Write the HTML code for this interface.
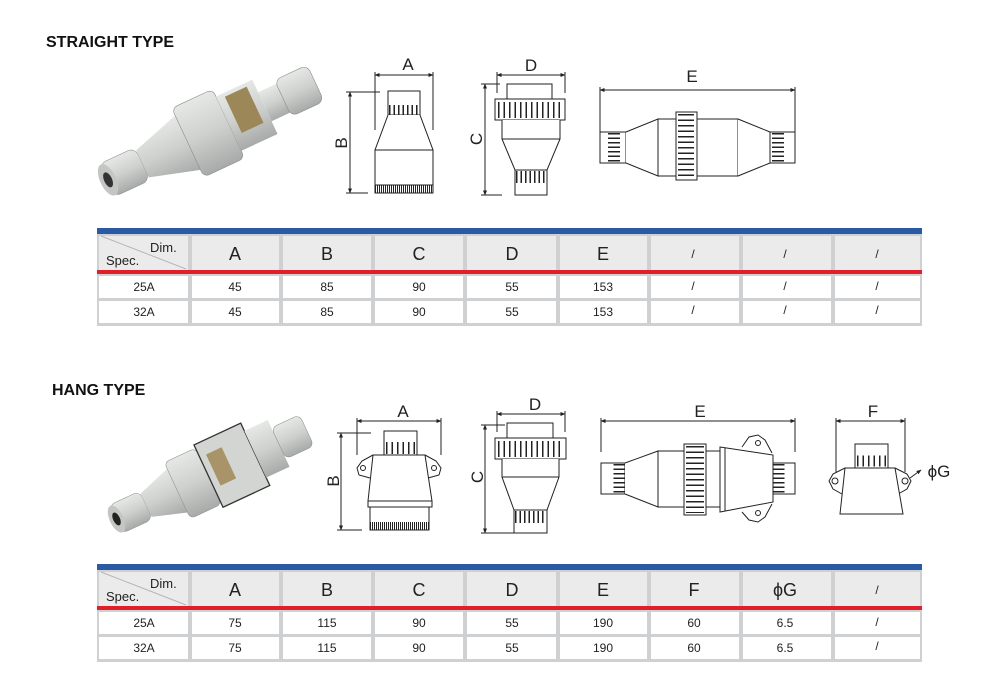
<!DOCTYPE html>
<html><head><meta charset="utf-8"><style>
html,body{margin:0;padding:0;background:#fff}
svg{display:block}
text{font-family:"Liberation Sans",Arial,sans-serif}
</style></head><body>
<svg width="1000" height="684" viewBox="0 0 1000 684" xmlns="http://www.w3.org/2000/svg">
<defs>
<marker id="ar" viewBox="0 0 10 10" refX="9" refY="5" markerWidth="5" markerHeight="5" orient="auto-start-reverse"><path d="M0,1 L10,5 L0,9z" fill="#222"/></marker>
<linearGradient id="gp" x1="0" y1="0" x2="0" y2="1"><stop offset="0" stop-color="#e6e8e6"/><stop offset=".5" stop-color="#ced0ce"/><stop offset="1" stop-color="#a7aaa8"/></linearGradient>
</defs>

<text x="46" y="47" font-size="16" font-weight="bold" fill="#111">STRAIGHT TYPE</text>
<text x="52" y="395" font-size="16" font-weight="bold" fill="#111">HANG TYPE</text>

<!-- photo 1 -->
<g transform="rotate(-25 215 130)">
<rect x="95" y="112" width="40" height="36" rx="8" fill="url(#gp)" stroke="#8a8d8b" stroke-width=".6"/>
<ellipse cx="97" cy="130" rx="8" ry="17" fill="#c4c6c4"/><ellipse cx="97" cy="130" rx="4" ry="8" fill="#333"/>
<path d="M135,115 L185,100 L185,160 L135,145z" fill="url(#gp)"/>
<rect x="185" y="92" width="45" height="76" rx="6" fill="url(#gp)" stroke="#8a8d8b" stroke-width=".6"/>
<rect x="230" y="100" width="40" height="60" fill="url(#gp)"/>
<rect x="238" y="104" width="24" height="40" fill="#9c8758"/>
<rect x="270" y="114" width="20" height="32" fill="url(#gp)"/>
<rect x="290" y="110" width="36" height="40" rx="7" fill="url(#gp)" stroke="#8a8d8b" stroke-width=".6"/>
</g>
<!-- photo 2 -->
<g transform="translate(205 478) scale(0.86) translate(-215 -478)">
<g transform="rotate(-25 210 480)">
<rect x="100" y="462" width="40" height="36" rx="8" fill="url(#gp)" stroke="#8a8d8b" stroke-width=".6"/>
<ellipse cx="102" cy="480" rx="8" ry="17" fill="#c4c6c4"/><ellipse cx="102" cy="480" rx="4" ry="8" fill="#222"/>
<path d="M140,465 L180,452 L180,508 L140,495z" fill="url(#gp)"/>
<rect x="180" y="444" width="40" height="72" rx="6" fill="url(#gp)" stroke="#8a8d8b" stroke-width=".6"/>
<rect x="220" y="440" width="60" height="80" fill="#d3d5d3" stroke="#333" stroke-width="1.5"/>
<rect x="228" y="456" width="20" height="40" fill="#a89468"/>
<rect x="280" y="450" width="30" height="60" fill="url(#gp)"/>
<rect x="310" y="460" width="36" height="40" rx="7" fill="url(#gp)" stroke="#8a8d8b" stroke-width=".6"/>
</g>
</g>

<g fill="none" stroke="#222" stroke-width="1">
<!-- ===== straight A/B ===== -->
<line x1="375" y1="75" x2="433" y2="75" marker-start="url(#ar)" marker-end="url(#ar)"/>
<line x1="375" y1="72" x2="375" y2="130"/><line x1="433" y1="72" x2="433" y2="130"/>
<line x1="350" y1="92" x2="350" y2="193" marker-start="url(#ar)" marker-end="url(#ar)"/>
<line x1="346" y1="92" x2="380" y2="92"/><line x1="346" y1="193" x2="368" y2="193"/>
<rect x="388" y="91" width="32" height="24" fill="#fff"/>
<line x1="389" y1="110" x2="420" y2="110" stroke-width="10" stroke-dasharray="1.5 3"/>
<path d="M388,115 L375,150 L375,185 L433,185 L433,150 L420,115" fill="#fff"/>
<line x1="375" y1="150" x2="433" y2="150"/>
<rect x="375" y="185" width="58" height="8" fill="#fff"/>
<line x1="375" y1="189" x2="433" y2="189" stroke-width="7" stroke-dasharray="1 1"/>
<!-- C/D -->
<line x1="497" y1="75" x2="565" y2="75" marker-start="url(#ar)" marker-end="url(#ar)"/>
<line x1="497" y1="72" x2="497" y2="93"/><line x1="565" y1="72" x2="565" y2="93"/>
<line x1="485" y1="84" x2="485" y2="195" marker-start="url(#ar)" marker-end="url(#ar)"/>
<line x1="481" y1="84" x2="500" y2="84"/><line x1="481" y1="195" x2="502" y2="195"/>
<rect x="507" y="84" width="45" height="15" fill="#fff"/>
<rect x="495" y="99" width="70" height="21" fill="#fff"/>
<line x1="498" y1="110" x2="563" y2="110" stroke-width="16" stroke-dasharray="1.5 4"/>
<path d="M502,120 L502,139 L515,170 L547,170 L560,139 L560,120" fill="#fff"/>
<line x1="502" y1="139" x2="560" y2="139"/>
<rect x="515" y="170" width="32" height="25" fill="#fff"/>
<line x1="516" y1="177" x2="547" y2="177" stroke-width="12" stroke-dasharray="1.5 3"/>
<!-- E -->
<line x1="600" y1="90" x2="795" y2="90" marker-start="url(#ar)" marker-end="url(#ar)"/>
<line x1="600" y1="87" x2="600" y2="140"/><line x1="795" y1="87" x2="795" y2="160"/>
<rect x="600" y="132" width="26" height="31" fill="#fff"/>
<line x1="614" y1="133" x2="614" y2="162" stroke-width="12" stroke-dasharray="1.5 3"/>
<path d="M626,132 L658,119 L658,176 L626,163" fill="#fff"/>
<rect x="658" y="119" width="80" height="57" fill="#fff"/>
<path d="M738,119 L770,132 L770,163 L738,176" fill="#fff"/>
<rect x="676" y="112" width="21" height="68" fill="#fff"/>
<line x1="686" y1="114" x2="686" y2="178" stroke-width="16" stroke-dasharray="1.5 4"/>
<rect x="770" y="132" width="25" height="31" fill="#fff"/>
<line x1="778" y1="133" x2="778" y2="162" stroke-width="12" stroke-dasharray="1.5 3"/>

<!-- ===== hang A/B ===== -->
<line x1="357" y1="421" x2="441" y2="421" marker-start="url(#ar)" marker-end="url(#ar)"/>
<line x1="357" y1="418" x2="357" y2="455"/><line x1="441" y1="418" x2="441" y2="455"/>
<line x1="341" y1="433" x2="341" y2="530" marker-start="url(#ar)" marker-end="url(#ar)"/>
<line x1="337" y1="433" x2="371" y2="433"/><line x1="337" y1="530" x2="362" y2="530"/>
<rect x="384" y="431" width="33" height="24" fill="#fff"/>
<line x1="386" y1="448" x2="417" y2="448" stroke-width="12" stroke-dasharray="1.5 4"/>
<path d="M373,455 L362,461 L357,468 L359,475 L370,478" fill="#fff"/>
<path d="M425,455 L436,461 L441,468 L439,475 L428,478" fill="#fff"/>
<circle cx="363" cy="468" r="2.5"/><circle cx="434" cy="468" r="2.5"/>
<path d="M373,455 L425,455 L432,501 L368,501z" fill="#fff"/>
<rect x="368" y="501" width="64" height="6" fill="#fff"/>
<rect x="370" y="507" width="59" height="23" fill="#fff"/>
<line x1="370" y1="526" x2="429" y2="526" stroke-width="8" stroke-dasharray="1 1"/>
<!-- hang C/D -->
<line x1="497" y1="414" x2="565" y2="414" marker-start="url(#ar)" marker-end="url(#ar)"/>
<line x1="497" y1="411" x2="497" y2="432"/><line x1="565" y1="411" x2="565" y2="432"/>
<line x1="485" y1="425" x2="485" y2="533" marker-start="url(#ar)" marker-end="url(#ar)"/>
<line x1="481" y1="425" x2="505" y2="425"/><line x1="481" y1="533" x2="514" y2="533"/>
<rect x="507" y="423" width="46" height="15" fill="#fff"/>
<rect x="495" y="438" width="71" height="21" fill="#fff"/>
<line x1="498" y1="449" x2="564" y2="449" stroke-width="16" stroke-dasharray="1.5 4"/>
<path d="M502,459 L502,477 L514,510 L547,510 L559,477 L559,459" fill="#fff"/>
<line x1="502" y1="477" x2="559" y2="477"/>
<rect x="514" y="510" width="33" height="23" fill="#fff"/>
<line x1="515" y1="517" x2="547" y2="517" stroke-width="12" stroke-dasharray="1.5 3"/>
<!-- hang E -->
<line x1="601" y1="421" x2="795" y2="421" marker-start="url(#ar)" marker-end="url(#ar)"/>
<line x1="601" y1="418" x2="601" y2="452"/><line x1="795" y1="418" x2="795" y2="452"/>
<rect x="601" y="463" width="24" height="31" fill="#fff"/>
<line x1="619" y1="464" x2="619" y2="493" stroke-width="11" stroke-dasharray="1.5 3"/>
<path d="M625,463 L658,451 L658,507 L625,494" fill="#fff"/>
<rect x="658" y="451" width="62" height="56" fill="#fff"/>
<rect x="684" y="444" width="22" height="71" fill="#fff"/>
<line x1="695" y1="446" x2="695" y2="513" stroke-width="18" stroke-dasharray="1.5 4"/>
<rect x="773" y="463" width="22" height="31" fill="#fff"/>
<line x1="779" y1="464" x2="779" y2="493" stroke-width="11" stroke-dasharray="1.5 3"/>
<path d="M742,447 L749,437 L758,435 L765,440 L772,453" fill="#fff"/>
<path d="M742,512 L749,520 L758,522 L765,517 L772,504" fill="#fff"/>
<path d="M720,447 L773,455 L773,502 L720,512z" fill="#fff"/>
<line x1="725" y1="448" x2="725" y2="511"/>
<circle cx="758" cy="443" r="2.5"/><circle cx="758" cy="513" r="2.5"/>
<!-- F -->
<line x1="836" y1="421" x2="905" y2="421" marker-start="url(#ar)" marker-end="url(#ar)"/>
<line x1="836" y1="418" x2="836" y2="472"/><line x1="905" y1="418" x2="905" y2="472"/>
<rect x="855" y="444" width="33" height="24" fill="#fff"/>
<line x1="857" y1="461" x2="888" y2="461" stroke-width="11" stroke-dasharray="1.5 4"/>
<path d="M845,468 L833,474 L829,481 L833,489 L842,494" fill="#fff"/>
<path d="M895,468 L907,474 L911,481 L907,489 L898,494" fill="#fff"/>
<circle cx="835" cy="481" r="3"/><circle cx="905" cy="481" r="3"/>
<path d="M845,468 L895,468 L903,514 L840,514z" fill="#fff"/>
<line x1="910" y1="478" x2="921" y2="470" marker-end="url(#ar)"/>
</g>

<g font-size="17" fill="#222" text-anchor="middle">
<text x="408" y="70">A</text><text x="531" y="71">D</text><text x="692" y="82">E</text>
<text x="347" y="143" transform="rotate(-90 347 143)">B</text>
<text x="482" y="139" transform="rotate(-90 482 139)">C</text>
<text x="403" y="417">A</text><text x="535" y="410">D</text><text x="700" y="417">E</text><text x="873" y="417">F</text>
<text x="339" y="481" transform="rotate(-90 339 481)">B</text>
<text x="483" y="477" transform="rotate(-90 483 477)">C</text>
<text x="939" y="477">ϕG</text>
</g>

<!-- ===== Table 1 ===== -->
<g>
<rect x="97" y="230" width="825" height="96" fill="#cfd0d2"/>
<rect x="97" y="228" width="825" height="6" fill="#2a5aa6"/>
<g fill="#ebebeb">
<rect x="99" y="236" width="89" height="34"/><rect x="192" y="236" width="87" height="34"/><rect x="283" y="236" width="88" height="34"/><rect x="375" y="236" width="88" height="34"/><rect x="467" y="236" width="89" height="34"/><rect x="560" y="236" width="87" height="34"/><rect x="651" y="236" width="88" height="34"/><rect x="743" y="236" width="88" height="34"/><rect x="835" y="236" width="85" height="34"/>
</g>
<rect x="97" y="270" width="825" height="4" fill="#e01f2b"/>
<g fill="#fff">
<rect x="99" y="276" width="89" height="22"/><rect x="192" y="276" width="87" height="22"/><rect x="283" y="276" width="88" height="22"/><rect x="375" y="276" width="88" height="22"/><rect x="467" y="276" width="89" height="22"/><rect x="560" y="276" width="87" height="22"/><rect x="651" y="276" width="88" height="22"/><rect x="743" y="276" width="88" height="22"/><rect x="835" y="276" width="85" height="22"/>
<rect x="99" y="301" width="89" height="22"/><rect x="192" y="301" width="87" height="22"/><rect x="283" y="301" width="88" height="22"/><rect x="375" y="301" width="88" height="22"/><rect x="467" y="301" width="89" height="22"/><rect x="560" y="301" width="87" height="22"/><rect x="651" y="301" width="88" height="22"/><rect x="743" y="301" width="88" height="22"/><rect x="835" y="301" width="85" height="22"/>
</g>
<line x1="101" y1="236" x2="186" y2="269" stroke="#b5b6b8" stroke-width="1"/>
<text x="150" y="252" font-size="13" fill="#222">Dim.</text><text x="106" y="265" font-size="13" fill="#222">Spec.</text>
<g font-size="18" fill="#222" text-anchor="middle">
<text x="235" y="260">A</text><text x="327" y="260">B</text><text x="419" y="260">C</text><text x="512" y="260">D</text><text x="603" y="260">E</text>
</g>
<g font-size="12" fill="#222" text-anchor="middle">
<text x="693" y="258">/</text><text x="785" y="258">/</text><text x="877" y="258">/</text>
<text x="144" y="291">25A</text><text x="235" y="291">45</text><text x="327" y="291">85</text><text x="419" y="291">90</text><text x="512" y="291">55</text><text x="603" y="291">153</text><text x="693" y="290">/</text><text x="785" y="290">/</text><text x="877" y="290">/</text>
<text x="144" y="316">32A</text><text x="235" y="316">45</text><text x="327" y="316">85</text><text x="419" y="316">90</text><text x="512" y="316">55</text><text x="603" y="316">153</text><text x="693" y="314">/</text><text x="785" y="314">/</text><text x="877" y="314">/</text>
</g>
</g>

<!-- ===== Table 2 ===== -->
<g transform="translate(0,336)">
<rect x="97" y="230" width="825" height="96" fill="#cfd0d2"/>
<rect x="97" y="228" width="825" height="6" fill="#2a5aa6"/>
<g fill="#ebebeb">
<rect x="99" y="236" width="89" height="34"/><rect x="192" y="236" width="87" height="34"/><rect x="283" y="236" width="88" height="34"/><rect x="375" y="236" width="88" height="34"/><rect x="467" y="236" width="89" height="34"/><rect x="560" y="236" width="87" height="34"/><rect x="651" y="236" width="88" height="34"/><rect x="743" y="236" width="88" height="34"/><rect x="835" y="236" width="85" height="34"/>
</g>
<rect x="97" y="270" width="825" height="4" fill="#e01f2b"/>
<g fill="#fff">
<rect x="99" y="276" width="89" height="22"/><rect x="192" y="276" width="87" height="22"/><rect x="283" y="276" width="88" height="22"/><rect x="375" y="276" width="88" height="22"/><rect x="467" y="276" width="89" height="22"/><rect x="560" y="276" width="87" height="22"/><rect x="651" y="276" width="88" height="22"/><rect x="743" y="276" width="88" height="22"/><rect x="835" y="276" width="85" height="22"/>
<rect x="99" y="301" width="89" height="22"/><rect x="192" y="301" width="87" height="22"/><rect x="283" y="301" width="88" height="22"/><rect x="375" y="301" width="88" height="22"/><rect x="467" y="301" width="89" height="22"/><rect x="560" y="301" width="87" height="22"/><rect x="651" y="301" width="88" height="22"/><rect x="743" y="301" width="88" height="22"/><rect x="835" y="301" width="85" height="22"/>
</g>
<line x1="101" y1="236" x2="186" y2="269" stroke="#b5b6b8" stroke-width="1"/>
<text x="150" y="252" font-size="13" fill="#222">Dim.</text><text x="106" y="265" font-size="13" fill="#222">Spec.</text>
<g font-size="18" fill="#222" text-anchor="middle">
<text x="235" y="260">A</text><text x="327" y="260">B</text><text x="419" y="260">C</text><text x="512" y="260">D</text><text x="603" y="260">E</text><text x="694" y="260">F</text><text x="785" y="260">ϕG</text>
</g>
<g font-size="12" fill="#222" text-anchor="middle">
<text x="877" y="258">/</text>
<text x="144" y="291">25A</text><text x="235" y="291">75</text><text x="327" y="291">115</text><text x="419" y="291">90</text><text x="512" y="291">55</text><text x="603" y="291">190</text><text x="694" y="291">60</text><text x="785" y="291">6.5</text><text x="877" y="290">/</text>
<text x="144" y="316">32A</text><text x="235" y="316">75</text><text x="327" y="316">115</text><text x="419" y="316">90</text><text x="512" y="316">55</text><text x="603" y="316">190</text><text x="694" y="316">60</text><text x="785" y="316">6.5</text><text x="877" y="314">/</text>
</g>
</g>
</svg>
</body></html>
